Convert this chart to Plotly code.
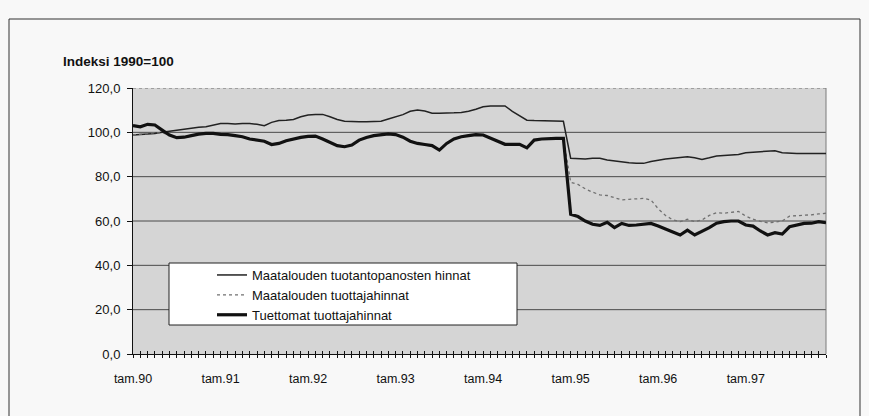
import plotly.graph_objects as go

# ---- data (monthly, Jan 1990 .. Dec 1997) ----
months = list(range(96))
tick_months = [0, 12, 24, 36, 48, 60, 72, 84]
tick_labels = ["tam.90", "tam.91", "tam.92", "tam.93", "tam.94", "tam.95", "tam.96", "tam.97"]
y_ticks = [0, 20, 40, 60, 80, 100, 120]

input_prices = [
    98.8, 99.0, 99.3, 99.5, 100.0, 100.5, 101.0, 101.5, 102.0, 102.3, 102.5, 103.2,
    104.0, 104.0, 103.8, 104.0, 104.0, 103.6, 103.0, 104.5, 105.3, 105.5, 105.8, 107.0,
    107.8, 108.0, 108.1, 107.0, 105.8, 105.0, 104.8, 104.8, 104.8, 104.8, 105.0, 106.0,
    107.0, 108.0, 109.5, 110.1, 109.6, 108.6, 108.6, 108.6, 108.8, 109.0, 109.5, 110.4,
    111.5, 111.9, 111.9, 111.9, 109.5, 107.5, 105.5, 105.3, 105.3, 105.3, 105.3, 105.0,
    88.3, 88.0, 88.0, 88.3, 88.3, 87.5, 87.0, 86.5, 86.3, 86.0, 86.0, 86.8,
    87.5, 88.0, 88.3, 88.8, 89.0, 88.5, 87.8, 88.5, 89.3, 89.5, 89.8, 90.0,
    90.8, 91.0, 91.0, 91.3, 91.7, 90.8, 90.5, 90.5, 90.5, 90.5, 90.5, 90.5,
]

producer_prices = [
    98.8, 99.2, 99.5, 99.8, 99.8, 98.8, 97.6, 97.8, 98.5, 99.2, 99.5, 99.5,
    99.1, 99.0, 98.5, 98.0, 97.0, 96.5, 96.0, 94.5, 95.0, 96.2, 97.0, 97.7,
    98.2, 98.3, 97.0, 95.5, 94.0, 93.5, 94.3, 96.5, 97.7, 98.5, 98.8, 99.3,
    99.0, 97.8, 96.0, 95.0, 94.5, 94.0, 92.0, 95.0, 97.0, 98.0, 98.5, 99.0,
    98.8, 97.5, 96.0, 94.6, 94.6, 94.6, 93.0, 96.5, 97.0, 97.3, 97.3, 97.3,
    77.5, 76.5, 74.5, 73.0, 71.8, 71.5, 70.5, 69.5, 69.8, 70.0, 70.2, 69.5,
    65.5, 62.5, 60.5, 59.7, 60.8, 59.7, 60.5, 62.5, 63.7, 63.5, 64.0, 64.3,
    62.2, 60.8, 59.8, 59.2, 59.5, 60.0, 62.2, 62.3, 62.7, 62.8, 63.2, 63.5,
]

unsupported_prices = [
    103.0, 102.5, 103.6, 103.3, 101.0, 98.8, 97.6, 97.8, 98.5, 99.2, 99.5, 99.5,
    99.1, 99.0, 98.5, 98.0, 97.0, 96.5, 96.0, 94.5, 95.0, 96.2, 97.0, 97.7,
    98.2, 98.3, 97.0, 95.5, 94.0, 93.5, 94.3, 96.5, 97.7, 98.5, 98.8, 99.3,
    99.0, 97.8, 96.0, 95.0, 94.5, 94.0, 92.0, 95.0, 97.0, 98.0, 98.5, 99.0,
    98.8, 97.5, 96.0, 94.6, 94.6, 94.6, 93.0, 96.5, 97.0, 97.3, 97.3, 97.3,
    63.0, 62.0, 60.0, 58.5, 58.0, 59.4, 57.0, 58.9, 58.0, 58.2, 58.5, 58.9,
    57.7, 56.5, 55.0, 53.7, 55.9, 53.7, 55.2, 57.0, 59.0, 59.7, 60.0, 60.0,
    58.2, 57.7, 55.5, 53.7, 54.7, 54.1, 57.4, 58.2, 58.9, 59.0, 59.7, 59.2,
]

names = [
    "Maatalouden tuotantopanosten hinnat",
    "Maatalouden tuottajahinnat",
    "Tuettomat tuottajahinnat",
]

FONT = "Arial, Liberation Sans, sans-serif"

# plot-area pixel geometry helpers (for placing non-data decorations)
L, R, T, B, W, H = 133, 826, 88, 354, 869, 416
def px(x):
    return (x - L) / (R - L)
def py(y):
    return (B - y) / (B - T)

fig = go.Figure()
fig.add_trace(go.Scatter(x=months, y=input_prices, name=names[0], mode="lines",
                         line=dict(color="#222222", width=1.5)))
fig.add_trace(go.Scatter(x=months, y=producer_prices, name=names[1], mode="lines",
                         line=dict(color="#707070", width=1.3, dash="dot")))
# thick series on the overlay x-axis (same range) so that axis draws its inside ticks
fig.add_trace(go.Scatter(x=months, y=unsupported_prices, name=names[2], mode="lines",
                         xaxis="x2", line=dict(color="#111111", width=3.2)))

shapes = []
for v in y_ticks[1:-1]:
    shapes.append(dict(type="line", xref="paper", x0=0, x1=1, yref="y", y0=v, y1=v,
                       line=dict(color="#4a4a4a", width=1), layer="below"))
shapes.append(dict(type="line", xref="paper", x0=0, x1=1, yref="y", y0=y_ticks[-1], y1=y_ticks[-1],
                   line=dict(color="#6a6a6a", width=1, dash="dot"), layer="below"))
shapes.append(dict(type="line", xref="paper", x0=1, x1=1, yref="paper", y0=0, y1=1,
                   line=dict(color="#7a7a7a", width=1), layer="below"))
# legend box
shapes.append(dict(type="rect", xref="paper", yref="paper",
                   x0=px(169), x1=px(517), y0=py(325), y1=py(263),
                   fillcolor="white", line=dict(color="#222222", width=1), layer="above"))
# outer frame
for (x0, y0, x1, y1) in [(9, 19, 860, 19), (9, 19, 9, 416), (860, 19, 860, 416)]:
    shapes.append(dict(type="line", xref="paper", yref="paper",
                       x0=px(x0), x1=px(x1), y0=py(y0), y1=py(y1),
                       line=dict(color="#333333", width=1)))

fig.update_layout(
    width=W, height=H,
    margin=dict(l=L, r=W - R, t=T, b=H - B),
    paper_bgcolor="#f8f8f8",
    plot_bgcolor="#d5d5d5",
    separators=", ",
    font=dict(family=FONT, size=13, color="#111111"),
    shapes=shapes,
    showlegend=True,
    legend=dict(x=px(212), y=py(260), xanchor="left", yanchor="top",
                bgcolor="rgba(0,0,0,0)", borderwidth=0,
                font=dict(family=FONT, size=13, color="#111111"),
                itemwidth=30, tracegroupgap=0),
    xaxis=dict(range=[0, 95], tickmode="array", tickvals=tick_months, ticktext=tick_labels,
               showgrid=False, zeroline=False, showline=True, linecolor="#111111", linewidth=1,
               ticks="outside", ticklen=3, tickcolor="#111111", ticklabelstandoff=10,
               tickfont=dict(size=12.5, family=FONT, color="#111111"),
               minor=dict(dtick=1, tick0=0, ticks="outside", ticklen=3, tickcolor="#111111",
                          showgrid=False)),
    xaxis2=dict(range=[0, 95], overlaying="x", anchor="y", side="bottom",
                showticklabels=False, showgrid=False, zeroline=False, showline=False,
                tickmode="linear", tick0=0, dtick=1, ticks="inside", ticklen=3,
                tickcolor="#111111"),
    yaxis=dict(range=[0, 120], tickmode="array", tickvals=y_ticks, tickformat=".1f",
               showgrid=False, zeroline=False, showline=True, linecolor="#111111", linewidth=1,
               ticks="outside", ticklen=5, tickcolor="#111111", ticklabelstandoff=4,
               tickfont=dict(size=13, family=FONT, color="#111111")),
    annotations=[dict(text="<b>Indeksi 1990=100</b>", xref="paper", yref="paper",
                      x=px(61), y=py(61), xanchor="left", yanchor="middle", showarrow=False,
                      font=dict(family=FONT, size=13.5, color="#111111"))],
)

fig.write_html("out.html", config={"displayModeBar": False},
               post_script="document.body.style.margin='0px';")
